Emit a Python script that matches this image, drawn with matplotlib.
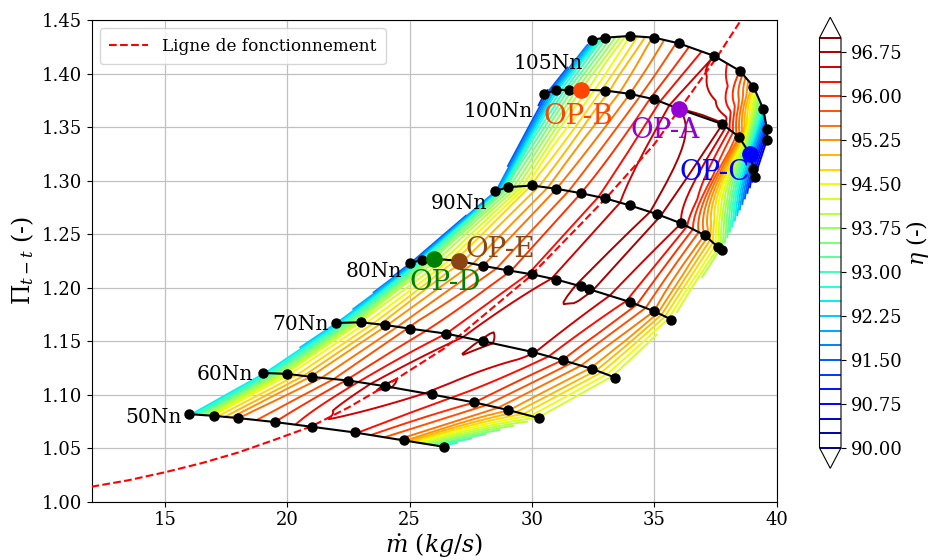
import numpy as np
import matplotlib
matplotlib.use('Agg')
import matplotlib.pyplot as plt

plt.rcParams['font.family'] = ['DejaVu Serif']
plt.rcParams['mathtext.fontset'] = 'dejavuserif'

# ---------------- data ----------------
speed_names = ['50Nn', '60Nn', '70Nn', '80Nn', '90Nn', '100Nn', '105Nn']

m_50 = [16.0, 17.0, 18.0, 19.5, 21.0, 22.75, 24.75, 26.4]
pi_50 = [1.0818, 1.0802, 1.0781, 1.0744, 1.0700, 1.0647, 1.0573, 1.0513]
eta_50 = [92.3, 94.6, 95.5, 96.0, 96.45, 96.3, 95.4, 92.5]

m_60 = [19.0, 20.0, 21.0, 22.5, 24.0, 25.9, 27.65, 29.0, 30.3]
pi_60 = [1.1203, 1.1194, 1.1166, 1.1132, 1.1079, 1.1002, 1.0927, 1.0858, 1.0781]
eta_60 = [92.3, 94.4, 95.3, 96.05, 96.8, 96.45, 96.0, 95.3, 94.2]

m_70 = [22.0, 23.0, 24.0, 25.0, 26.5, 28.0, 30.0, 31.25, 32.45, 33.4]
pi_70 = [1.1670, 1.1676, 1.1651, 1.1617, 1.1570, 1.1499, 1.1400, 1.1322, 1.1241, 1.1160]
eta_70 = [92.2, 94.3, 95.2, 95.8, 96.25, 96.8, 96.55, 96.0, 95.2, 94.1]

m_80 = [25.0, 25.5, 26.0, 27.0, 28.0, 29.0, 30.0, 31.0, 32.0, 32.35, 34.0, 35.0, 35.7]
pi_80 = [1.2230, 1.2257, 1.2270, 1.2250, 1.2203, 1.2162, 1.2124, 1.2075, 1.2012, 1.1984, 1.1866, 1.1779, 1.1701]
eta_80 = [91.3, 92.8, 93.8, 94.9, 95.5, 95.95, 96.3, 96.55, 96.8, 96.8, 96.2, 95.5, 94.3]

m_90 = [28.5, 29.0, 30.0, 31.0, 32.0, 33.0, 34.0, 35.1, 36.1, 37.05, 37.6, 37.75]
pi_90 = [1.2901, 1.2938, 1.2954, 1.2923, 1.2882, 1.2833, 1.2768, 1.2687, 1.2600, 1.2491, 1.2379, 1.2348]
eta_90 = [91.6, 93.4, 94.8, 95.5, 96.0, 96.35, 96.6, 96.8, 96.5, 95.5, 94.3, 93.8]

m_100 = [30.5, 31.0, 31.5, 32.0, 33.0, 34.0, 35.0, 36.0, 37.75, 38.45, 38.9, 39.05, 39.1]
pi_100 = [1.3810, 1.3847, 1.3847, 1.3850, 1.3841, 1.3810, 1.3759, 1.3670, 1.3530, 1.3411, 1.3250, 1.3110, 1.3032]
eta_100 = [91.2, 92.4, 93.3, 94.0, 94.9, 95.5, 96.1, 96.75, 96.8, 95.6, 92.3, 91.0, 90.5]

m_105 = [32.45, 33.0, 34.0, 35.0, 36.0, 37.45, 38.5, 39.05, 39.45, 39.6, 39.6]
pi_105 = [1.4316, 1.4335, 1.4351, 1.4335, 1.4282, 1.4164, 1.4024, 1.3878, 1.3670, 1.3483, 1.3380]
eta_105 = [91.8, 93.2, 94.5, 95.3, 95.8, 96.5, 96.0, 94.8, 92.5, 91.0, 90.5]

# speed-line label anchors (right edge, baseline)
label_m = [15.68, 18.61, 21.67, 24.67, 28.15, 30.05, 32.06]
label_pi = [1.0737, 1.1135, 1.1608, 1.2099, 1.2737, 1.3591, 1.4043]

# operating line
op_line_m = [12.0, 13.5, 15.0, 16.5, 18.0, 19.5, 21.0, 22.5, 24.0, 26.4, 29.9, 33.0, 35.0, 37.55, 38.6]
op_line_pi = [1.014, 1.020, 1.0275, 1.036, 1.046, 1.058, 1.0705, 1.088, 1.108, 1.143, 1.210, 1.283, 1.334, 1.415, 1.452]

# operating points
op_names = ['OP-A', 'OP-B', 'OP-C', 'OP-D', 'OP-E']
op_m = [36.0, 32.0, 38.9, 26.0, 27.0]
op_pi = [1.3670, 1.3850, 1.3250, 1.2270, 1.2250]
op_colors = ['darkviolet', 'orangered', 'blue', 'green', 'saddlebrown']
op_text_m = [35.44, 31.88, 37.46, 26.44, 28.69]
op_text_pi = [1.3393, 1.3531, 1.3001, 1.1975, 1.2283]

eta_levels = np.arange(90.0, 97.001, 0.25)
cbar_ticks = np.arange(90.0, 96.76, 0.75)

speed_m = [m_50, m_60, m_70, m_80, m_90, m_100, m_105]
speed_pi = [pi_50, pi_60, pi_70, pi_80, pi_90, pi_100, pi_105]
speed_eta = [eta_50, eta_60, eta_70, eta_80, eta_90, eta_100, eta_105]

# ---------------- structured grid along speed lines ----------------
def resample(m, p, e, n=150):
    m = np.asarray(m, float); p = np.asarray(p, float); e = np.asarray(e, float)
    d = np.hypot(np.diff(m) / 28.0, np.diff(p) / 0.45)
    s = np.concatenate([[0.0], np.cumsum(d)])
    s /= s[-1]
    t = np.linspace(0, 1, n)
    return np.interp(t, s, m), np.interp(t, s, p), np.interp(t, s, e)

X, Y, Z = [], [], []
for m, p, e in zip(speed_m, speed_pi, speed_eta):
    a, b, c = resample(m, p, e)
    X.append(a); Y.append(b); Z.append(c)
X = np.array(X); Y = np.array(Y); Z = np.array(Z)

# ---------------- figure ----------------
fig = plt.figure(figsize=(9.3, 5.6), dpi=100)
ax = fig.add_axes([91.5 / 930, 1 - 501.7 / 560, (776.7 - 91.5) / 930, (501.7 - 20) / 560])
cax = fig.add_axes([819.5 / 930, 1 - 468.3 / 560, 21.5 / 930, (468.3 - 17.3) / 560])

ax.set_axisbelow(True)
ax.grid(True, color='#c0c0c0', lw=0.9)

cs = ax.contour(X, Y, Z, levels=eta_levels, cmap='jet', extend='both',
                linewidths=1.4, zorder=2)

ax.plot(op_line_m, op_line_pi, 'r--', lw=1.5, zorder=3, label='Ligne de fonctionnement')

for m, p in zip(speed_m, speed_pi):
    ax.plot(m, p, 'k-', lw=1.5, marker='o', ms=6.5, zorder=4)

for name, lm, lp in zip(speed_names, label_m, label_pi):
    ax.text(lm, lp, name, ha='right', va='baseline', fontsize=14.5, zorder=6)

for name, m, p, c, tm, tp in zip(op_names, op_m, op_pi, op_colors, op_text_m, op_text_pi):
    ax.plot(m, p, 'o', color=c, ms=11, zorder=5)
    ax.text(tm, tp, name, color=c, ha='center', va='baseline', fontsize=20, zorder=6)

ax.set_xlim(12, 40)
ax.set_ylim(1.0, 1.45)
ax.set_xticks([15, 20, 25, 30, 35, 40])
ax.set_yticks(np.arange(1.0, 1.451, 0.05))
ax.set_yticklabels(['%.2f' % v for v in np.arange(1.0, 1.451, 0.05)])
ax.tick_params(labelsize=13)
ax.set_xlabel(r'$\dot{m}\ (kg/s)$', fontsize=17, labelpad=1)
ax.set_ylabel(r'$\Pi_{t-t}$ (-)', fontsize=17, labelpad=4)

leg = ax.legend(loc='upper left', fontsize=12.2, handlelength=2.3, borderpad=0.55)

cb = fig.colorbar(cs, cax=cax, ticks=cbar_ticks, format='%.2f')
cb.ax.tick_params(labelsize=13)
cb.set_label(r'$\eta$ (-)', fontsize=16, labelpad=1)

fig.savefig('out.png', dpi=100)
